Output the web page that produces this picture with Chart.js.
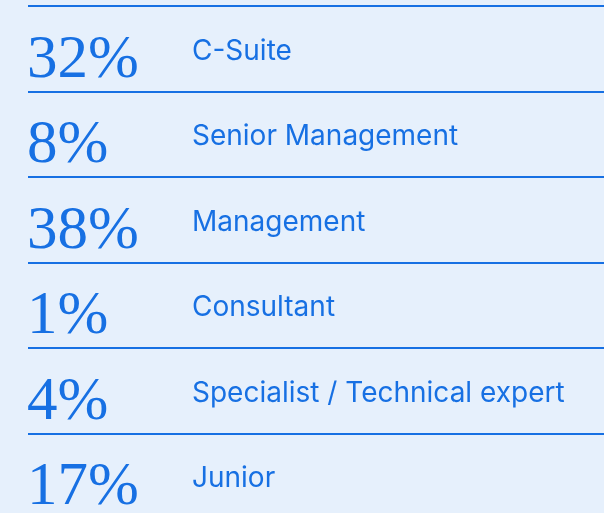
<!DOCTYPE html>
<html>
<head>
<meta charset="utf-8">
<script src="https://cdn.jsdelivr.net/npm/chart.js@4/dist/chart.umd.min.js"></script>
<style>
  html, body { margin: 0; padding: 0; background: #E6F0FC; overflow: hidden; }
  #wrap { width: 604px; height: 513px; position: relative; }
</style>
</head>
<body>
<div id="wrap"><canvas id="c" width="604" height="513"></canvas></div>
<script>
const categories = ["C-Suite", "Senior Management", "Management", "Consultant", "Specialist / Technical expert", "Junior"];
const percentages = [32, 8, 38, 1, 4, 17];
const rowIndex = [0, 1, 2, 3, 4, 5];
const separatorTicks = [-0.5, 0.5, 1.5, 2.5, 3.5, 4.5];

const BLUE = '#1770E3';
const SERIF = '61px "Liberation Serif"';
const SANS = '28px Inter';

const textPlugin = {
  id: 'rowText',
  afterDatasetsDraw(chart) {
    const ctx = chart.ctx;
    const meta = chart.getDatasetMeta(0);
    ctx.save();
    ctx.fillStyle = BLUE;
    ctx.textBaseline = 'alphabetic';
    meta.data.forEach((pt, i) => {
      const y = pt.y;
      ctx.font = SERIF + ', serif';
      ctx.textAlign = 'left';
      ctx.fillText(percentages[i] + '%', chart.chartArea.left - 1, y + 28);
      ctx.font = SANS + ', sans-serif';
      ctx.fillText(categories[i], 192, y + 11);
    });
    ctx.restore();
  }
};

function draw() {
  new Chart(document.getElementById('c'), {
    type: 'scatter',
    data: {
      datasets: [{
        data: rowIndex.map((r, i) => ({ x: percentages[i], y: r })),
        pointRadius: 0,
        pointHoverRadius: 0,
        showLine: false
      }]
    },
    options: {
      responsive: false,
      animation: false,
      events: [],
      layout: { padding: { left: 28, right: 0, top: 0, bottom: 0 } },
      plugins: { legend: { display: false }, tooltip: { enabled: false } },
      scales: {
        x: { display: false, min: 0, max: 100 },
        y: {
          reverse: true,
          min: -0.573,
          max: 5.427,
          afterBuildTicks(scale) { scale.ticks = separatorTicks.map(v => ({ value: v })); },
          ticks: { display: false },
          border: { display: false },
          grid: { color: BLUE, lineWidth: 2, drawTicks: false }
        }
      }
    },
    plugins: [textPlugin]
  });
}

Promise.all([
  document.fonts.load(SERIF),
  document.fonts.load(SANS)
]).then(draw, draw);
</script>
</body>
</html>
